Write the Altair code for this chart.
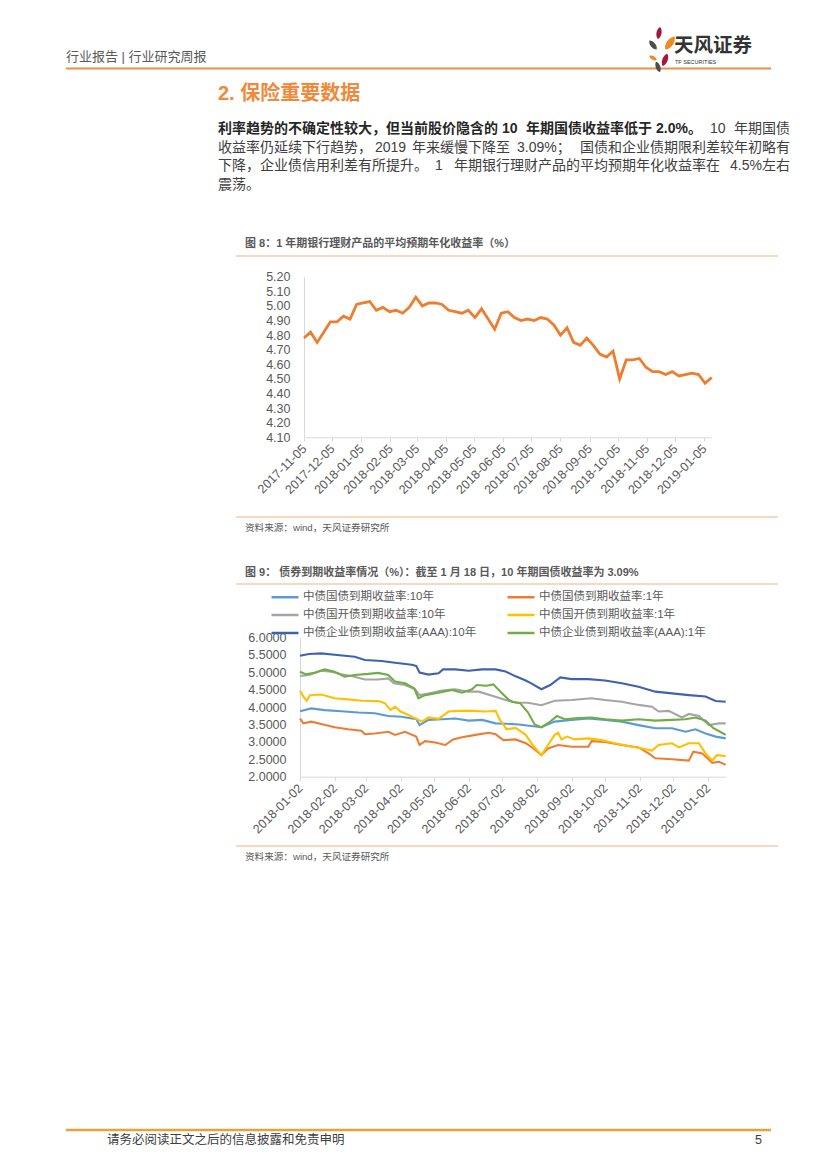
import altair as alt
import pandas as pd

CJK = "Liberation Sans, Noto Sans CJK SC"
NUM = "Liberation Sans"
W, H = 811, 1150

# ---------------- page texts ----------------
header_text = "行业报告 | 行业研究周报"
logo_cn = "天风证券"
logo_en = "TF SECURITIES"
heading = "2. 保险重要数据"
# paragraph lines split into pieces (text, bold) to imitate the justified layout
para_l1 = [("利率趋势的不确定性较大，但当前股价隐含的", True), ("10", True), ("年期国债收益率低于", True),
           ("2.0%。", True), ("10", False), ("年期国债", False)]
para_l2 = [("收益率仍延续下行趋势，", False), ("2019", False), ("年来缓慢下降至", False),
           ("3.09%；", False), ("国债和企业债期限利差较年初略有", False)]
para_l3 = [("下降，企业债信用利差有所提升。", False), ("1", False),
           ("年期银行理财产品的平均预期年化收益率在", False), ("4.5%左右", False)]
para_l4 = [("震荡。", False)]
fig8_title = "图 8：1 年期银行理财产品的平均预期年化收益率（%）"
fig9_title = "图 9： 债券到期收益率情况（%）：截至 1 月 18 日，10 年期国债收益率为 3.09%"
source_text = "资料来源：wind，天风证券研究所"
footer_text = "请务必阅读正文之后的信息披露和免责申明"
page_no = "5"

# ---------------- figure 8 data (weekly) ----------------
fig8_start = "2017-11-05"
fig8_rate = [4.78, 4.82, 4.75, 4.82, 4.89, 4.89, 4.93, 4.91, 5.01, 5.02, 5.03, 4.97, 4.99,
             4.96, 4.97, 4.95, 4.99, 5.06, 5.00, 5.02, 5.02, 5.01, 4.97, 4.96, 4.95, 4.97,
             4.92, 4.98, 4.91, 4.84, 4.95, 4.96, 4.92, 4.90, 4.91, 4.90, 4.92, 4.91, 4.87,
             4.80, 4.85, 4.75, 4.73, 4.78, 4.73, 4.67, 4.65, 4.69, 4.50, 4.63, 4.63, 4.64,
             4.58, 4.55, 4.55, 4.53, 4.55, 4.52, 4.53, 4.54, 4.53, 4.47, 4.51]
fig8_ticks = ["2017-11-05", "2017-12-05", "2018-01-05", "2018-02-05", "2018-03-05", "2018-04-05",
              "2018-05-05", "2018-06-05", "2018-07-05", "2018-08-05", "2018-09-05", "2018-10-05",
              "2018-11-05", "2018-12-05", "2019-01-05"]
fig8_yticks = [4.10, 4.20, 4.30, 4.40, 4.50, 4.60, 4.70, 4.80, 4.90, 5.00, 5.10, 5.20]

# ---------------- figure 9 data ----------------
# legend fills column by column: first column = 10年 series, second column = 1年 series
series_names = ["中债国债到期收益率:10年", "中债国开债到期收益率:10年", "中债企业债到期收益率(AAA):10年",
                "中债国债到期收益率:1年", "中债国开债到期收益率:1年", "中债企业债到期收益率(AAA):1年"]
series_colors = ["#5B9BD5", "#A5A5A5", "#3F62B0", "#ED7D31", "#FFC000", "#70AD47"]

gz10_dates = ["2018-01-02", "2018-01-12", "2018-01-24", "2018-02-08", "2018-02-23", "2018-03-10",
              "2018-03-22", "2018-04-03", "2018-04-12", "2018-04-16", "2018-04-19", "2018-04-27",
              "2018-05-09", "2018-05-21", "2018-06-02", "2018-06-14", "2018-06-26", "2018-07-05",
              "2018-07-17", "2018-08-06", "2018-08-18", "2018-09-02", "2018-09-17", "2018-10-02",
              "2018-10-17", "2018-11-01", "2018-11-16", "2018-12-01", "2018-12-13", "2018-12-22",
              "2018-12-31", "2019-01-09", "2019-01-18"]
gz10_vals = [3.88, 3.96, 3.91, 3.88, 3.84, 3.82, 3.74, 3.72, 3.67, 3.66, 3.48, 3.63, 3.65, 3.67,
             3.61, 3.63, 3.53, 3.52, 3.50, 3.42, 3.58, 3.63, 3.67, 3.63, 3.58, 3.48, 3.39, 3.39,
             3.29, 3.36, 3.24, 3.15, 3.10]

gz1_dates = ["2018-01-02", "2018-01-05", "2018-01-12", "2018-01-21", "2018-02-02", "2018-02-14",
             "2018-02-26", "2018-03-01", "2018-03-10", "2018-03-22", "2018-03-28", "2018-04-06",
             "2018-04-16", "2018-04-19", "2018-04-24", "2018-05-03", "2018-05-12", "2018-05-19",
             "2018-05-27", "2018-06-08", "2018-06-20", "2018-06-26", "2018-07-03", "2018-07-14",
             "2018-07-23", "2018-07-30", "2018-08-06", "2018-08-12", "2018-08-21", "2018-09-02",
             "2018-09-17", "2018-09-20", "2018-10-02", "2018-10-17", "2018-11-01", "2018-11-10",
             "2018-11-16", "2018-12-01", "2018-12-16", "2018-12-20", "2018-12-28", "2019-01-06",
             "2019-01-12", "2019-01-18"]
gz1_vals = [3.67, 3.53, 3.58, 3.51, 3.42, 3.36, 3.32, 3.22, 3.24, 3.29, 3.20, 3.29, 3.15, 2.91,
            3.02, 2.98, 2.91, 3.07, 3.13, 3.20, 3.26, 3.22, 3.05, 3.07, 2.96, 2.81, 2.62, 2.81,
            2.91, 2.86, 2.86, 3.02, 3.00, 2.91, 2.84, 2.67, 2.53, 2.50, 2.46, 2.72, 2.67, 2.40,
            2.43, 2.34]

gk10_dates = ["2018-01-02", "2018-01-10", "2018-01-21", "2018-01-30", "2018-02-08", "2018-02-17",
              "2018-03-01", "2018-03-13", "2018-03-22", "2018-03-27", "2018-04-06", "2018-04-15",
              "2018-04-19", "2018-04-27", "2018-05-09", "2018-05-21", "2018-06-02", "2018-06-11",
              "2018-06-23", "2018-07-05", "2018-07-14", "2018-07-25", "2018-08-06", "2018-08-18",
              "2018-09-02", "2018-09-20", "2018-10-02", "2018-10-17", "2018-11-01", "2018-11-13",
              "2018-11-19", "2018-11-28", "2018-12-10", "2018-12-16", "2018-12-25", "2019-01-03",
              "2019-01-12", "2019-01-18"]
gk10_vals = [4.89, 4.92, 5.04, 5.01, 4.94, 4.89, 4.79, 4.79, 4.82, 4.68, 4.63, 4.51, 4.34, 4.39,
             4.47, 4.51, 4.44, 4.44, 4.32, 4.20, 4.13, 4.12, 4.05, 4.18, 4.20, 4.25, 4.20, 4.15,
             4.06, 4.01, 3.87, 3.89, 3.70, 3.80, 3.74, 3.48, 3.53, 3.53]

gk1_dates = ["2018-01-02", "2018-01-05", "2018-01-08", "2018-01-11", "2018-01-21", "2018-02-02",
             "2018-02-14", "2018-02-26", "2018-03-13", "2018-03-19", "2018-03-24", "2018-03-28",
             "2018-04-02", "2018-04-09", "2018-04-18", "2018-04-21", "2018-04-27", "2018-05-06",
             "2018-05-15", "2018-05-24", "2018-06-05", "2018-06-17", "2018-06-26", "2018-06-30",
             "2018-07-06", "2018-07-14", "2018-07-23", "2018-07-30", "2018-08-06", "2018-08-12",
             "2018-08-18", "2018-08-21", "2018-08-24", "2018-08-29", "2018-09-05", "2018-09-17",
             "2018-09-29", "2018-10-11", "2018-10-23", "2018-11-04", "2018-11-13", "2018-11-19",
             "2018-12-01", "2018-12-07", "2018-12-16", "2018-12-25", "2018-12-31", "2019-01-06",
             "2019-01-10", "2019-01-18"]
gk1_vals = [4.47, 4.30, 4.18, 4.34, 4.36, 4.25, 4.22, 4.18, 4.17, 4.11, 3.91, 4.01, 3.87, 3.77,
            3.63, 3.58, 3.70, 3.66, 3.87, 3.89, 3.89, 3.87, 3.89, 3.63, 3.36, 3.40, 3.20, 2.88,
            2.62, 2.91, 3.20, 3.26, 3.07, 3.15, 3.07, 3.10, 3.05, 2.96, 2.88, 2.81, 2.75, 2.91,
            2.96, 2.84, 2.96, 2.96, 2.67, 2.46, 2.62, 2.59]

qy10_dates = ["2018-01-02", "2018-01-10", "2018-01-21", "2018-02-02", "2018-02-20", "2018-03-01",
              "2018-03-16", "2018-03-28", "2018-04-12", "2018-04-16", "2018-04-19", "2018-04-27",
              "2018-05-06", "2018-05-10", "2018-05-21", "2018-06-02", "2018-06-14", "2018-06-26",
              "2018-07-05", "2018-07-14", "2018-07-23", "2018-07-28", "2018-08-06", "2018-08-14",
              "2018-08-23", "2018-09-02", "2018-09-17", "2018-10-02", "2018-10-17", "2018-11-01",
              "2018-11-16", "2018-12-01", "2018-12-16", "2018-12-31", "2019-01-09", "2019-01-18"]
qy10_vals = [5.47, 5.52, 5.54, 5.50, 5.44, 5.35, 5.32, 5.27, 5.21, 5.18, 4.99, 4.93, 4.97, 5.08,
             5.08, 5.04, 5.08, 5.08, 5.02, 4.88, 4.76, 4.68, 4.51, 4.63, 4.85, 4.80, 4.80, 4.76,
             4.68, 4.58, 4.44, 4.39, 4.34, 4.30, 4.17, 4.15]

qy1_dates = ["2018-01-02", "2018-01-07", "2018-01-15", "2018-01-24", "2018-02-02", "2018-02-11",
             "2018-02-20", "2018-03-04", "2018-03-13", "2018-03-22", "2018-03-28", "2018-04-06",
             "2018-04-14", "2018-04-18", "2018-04-24", "2018-05-06", "2018-05-18", "2018-05-27",
             "2018-06-05", "2018-06-09", "2018-06-18", "2018-06-24", "2018-07-02", "2018-07-08",
             "2018-07-11", "2018-07-18", "2018-07-25", "2018-07-31", "2018-08-06", "2018-08-14",
             "2018-08-20", "2018-08-27", "2018-09-08", "2018-09-20", "2018-10-02", "2018-10-17",
             "2018-11-01", "2018-11-16", "2018-12-01", "2018-12-13", "2018-12-22", "2018-12-31",
             "2019-01-07", "2019-01-13", "2019-01-18"]
qy1_vals = [5.01, 4.94, 4.98, 5.08, 5.01, 4.87, 4.92, 4.95, 4.98, 4.92, 4.73, 4.68, 4.54, 4.25,
            4.34, 4.41, 4.49, 4.41, 4.51, 4.63, 4.61, 4.65, 4.39, 4.20, 4.15, 4.11, 3.85, 3.50,
            3.42, 3.58, 3.74, 3.65, 3.68, 3.70, 3.65, 3.61, 3.65, 3.61, 3.63, 3.65, 3.70, 3.61,
            3.39, 3.29, 3.20]

fig9_ticks = ["2018-01-02", "2018-02-02", "2018-03-02", "2018-04-02", "2018-05-02", "2018-06-02",
              "2018-07-02", "2018-08-02", "2018-09-02", "2018-10-02", "2018-11-02", "2018-12-02",
              "2019-01-02"]
fig9_yticks = [2.0, 2.5, 3.0, 3.5, 4.0, 4.5, 5.0, 5.5, 6.0]


def dt(s):
    y, m, d = (int(v) for v in s.split("-"))
    return alt.DateTime(year=y, month=m, date=d)


# ---------------- helpers for page decoration ----------------
def txt(s, x, y, size, color, weight="normal", align="left", font=CJK):
    return alt.Chart(pd.DataFrame({"label": [s]})).mark_text(
        align=align, baseline="middle", fontSize=size, color=color,
        fontWeight=weight, font=font
    ).encode(x=alt.value(x), y=alt.value(y), text="label:N")


def hline(x1, x2, y, color, width):
    return alt.Chart(pd.DataFrame({"k": [0]})).mark_rule(
        color=color, strokeWidth=width
    ).encode(x=alt.value(x1), x2=alt.value(x2), y=alt.value(y))


PETAL = "M0,-1C0.55,-0.6 0.55,0.6 0,1C-0.55,0.6 -0.55,-0.6 0,-1Z"


def petal(x, y, size, angle, color):
    return alt.Chart(pd.DataFrame({"k": [0]})).mark_point(
        shape=PETAL, filled=True, size=size, angle=angle, color=color, opacity=1, strokeWidth=0
    ).encode(x=alt.value(x), y=alt.value(y))


def para_line(pieces, xs, y):
    out = []
    for (s, bold), x in zip(pieces, xs):
        align = "right" if x < 0 else "left"
        out.append(txt(s, abs(x), y, 14, "#262626" if bold else "#404040",
                       weight="bold" if bold else "normal", align=align))
    return out


layers = []
# header
layers.append(txt(header_text, 58, 49, 13, "#595959"))
layers.append(hline(58, 763, 60.5, "#EE8F3E", 2))
layers.append(petal(651, 25, 150, 10, "#A3173D"))
layers.append(petal(662, 35, 260, 35, "#F08A24"))
layers.append(petal(645, 37, 130, 320, "#4D4D4D"))
layers.append(petal(645, 50, 70, 300, "#F08A24"))
layers.append(petal(657, 52, 170, 20, "#A3173D"))
layers.append(petal(650, 59, 120, 340, "#4D4D4D"))
layers.append(txt(logo_cn, 666, 38, 19.5, "#333333", weight="bold", font="Noto Sans CJK SC"))
layers.append(txt(logo_en, 667, 54, 5.5, "#333333", font=NUM))

# heading + paragraph (negative x = right aligned at that x)
layers.append(txt(heading, 210, 86, 20, "#F0893C", weight="bold"))
layers += para_line(para_l1, [210, 494, 518, 648, 702, -782], 121)
layers += para_line(para_l2, [210, 367, 404, 509, -782], 139.5)
layers += para_line(para_l3, [210, 427, 446, -782], 158)
layers += para_line(para_l4, [210], 176.5)

# figure 8 frame
layers.append(txt(fig8_title, 237, 236, 11, "#595959", weight="bold"))
layers.append(hline(228, 770, 248, "#F4B183", 1.2))
layers.append(hline(228, 770, 509, "#F4B183", 1.2))
layers.append(txt(source_text, 237, 520, 9.6, "#595959"))

# figure 9 frame
layers.append(txt(fig9_title, 237, 565, 11, "#595959", weight="bold"))
layers.append(hline(228, 770, 576, "#F4B183", 1.2))
layers.append(hline(228, 770, 838, "#F4B183", 1.2))
layers.append(txt(source_text, 237, 849, 9.6, "#595959"))

# footer
layers.append(hline(58, 763, 1122, "#E9A23B", 2.5))
layers.append(txt(footer_text, 99, 1132, 12.5, "#404040"))
layers.append(txt(page_no, 754, 1132, 12.5, "#404040", align="right"))

# ---------------- figure 8 chart ----------------
df8 = pd.DataFrame({"date": pd.date_range(fig8_start, periods=len(fig8_rate), freq="7D"),
                    "rate": fig8_rate})
X8 = (296, 703.7)
Y8 = (429.3, 268.7)
fig8 = alt.Chart(df8).mark_line(color="#ED7D31", strokeWidth=2.8).encode(
    x=alt.X("date:T",
            scale=alt.Scale(domain=[dt("2017-11-05"), dt("2019-01-13")], range=list(X8)),
            axis=alt.Axis(orient="bottom", offset=Y8[0] - H, values=[dt(t) for t in fig8_ticks],
                          format="%Y-%m-%d", labelAngle=315, labelAlign="right",
                          labelBaseline="middle", labelPadding=5, tickSize=4,
                          tickColor="#D9D9D9", domainColor="#D9D9D9", labelColor="#595959",
                          labelFont=NUM, labelFontSize=12.5, labelOverlap=False,
                          labelFlush=False, grid=False, title=None)),
    y=alt.Y("rate:Q",
            scale=alt.Scale(domain=[4.1, 5.2], range=list(Y8), zero=False, nice=False),
            axis=alt.Axis(orient="left", offset=-X8[0], values=fig8_yticks, format=".2f",
                          ticks=False, labelPadding=14, domainColor="#D9D9D9",
                          labelColor="#595959", labelFont=NUM, labelFontSize=12.5,
                          labelOverlap=False, grid=False, title=None)),
)
layers.append(fig8)

# ---------------- figure 9 chart ----------------
series_data = {
    "中债国债到期收益率:10年": (gz10_dates, gz10_vals),
    "中债国债到期收益率:1年": (gz1_dates, gz1_vals),
    "中债国开债到期收益率:10年": (gk10_dates, gk10_vals),
    "中债国开债到期收益率:1年": (gk1_dates, gk1_vals),
    "中债企业债到期收益率(AAA):10年": (qy10_dates, qy10_vals),
    "中债企业债到期收益率(AAA):1年": (qy1_dates, qy1_vals),
}
rows = []
for name, (ds, vs) in series_data.items():
    for d, v in zip(ds, vs):
        rows.append({"date": pd.Timestamp(d), "series": name, "value": v})
df9 = pd.DataFrame(rows)

X9 = (292, 717.7)
Y9 = (768.7, 629.3)
fig9 = alt.Chart(df9).mark_line(strokeWidth=2.1).encode(
    x=alt.X("date:T",
            scale=alt.Scale(domain=[dt("2018-01-02"), dt("2019-01-18")], range=list(X9)),
            axis=alt.Axis(orient="bottom", offset=Y9[0] - H, values=[dt(t) for t in fig9_ticks],
                          format="%Y-%m-%d", labelAngle=315, labelAlign="right",
                          labelBaseline="middle", labelPadding=5, tickSize=4,
                          tickColor="#D9D9D9", domainColor="#D9D9D9", labelColor="#595959",
                          labelFont=NUM, labelFontSize=12.5, labelOverlap=False,
                          labelFlush=False, grid=False, title=None)),
    y=alt.Y("value:Q",
            scale=alt.Scale(domain=[2.0, 6.0], range=list(Y9), zero=False, nice=False),
            axis=alt.Axis(orient="left", offset=-X9[0], values=fig9_yticks, format=".4f",
                          ticks=False, labelPadding=14, domainColor="#D9D9D9",
                          labelColor="#595959", labelFont=NUM, labelFontSize=12.5,
                          labelOverlap=False, grid=False, title=None)),
    color=alt.Color("series:N",
                    scale=alt.Scale(domain=series_names, range=series_colors),
                    legend=alt.Legend(orient="none", legendX=262, legendY=583, columns=2,
                                      columnPadding=25, rowPadding=6, symbolType="M-1,0H5",
                                      symbolSize=81, symbolStrokeWidth=2.5, labelOffset=21,
                                      labelFont=CJK, labelFontSize=11.5, labelColor="#595959",
                                      labelLimit=400, title=None, padding=0)),
)
layers.append(fig9)

chart = alt.layer(*layers).resolve_scale(
    x="independent", y="independent"
).properties(
    width=W, height=H, autosize=alt.AutoSizeParams(type="none"), padding=0, background="white"
).configure_view(stroke="transparent")

chart.save("out.html", embed_options={"renderer": "svg", "actions": False})
